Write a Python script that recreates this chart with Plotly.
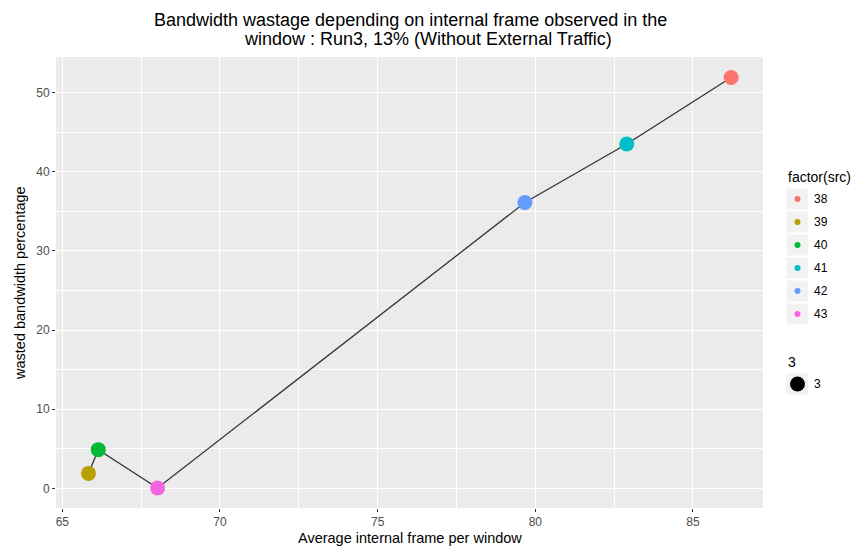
import plotly.graph_objects as go

# Per-source observations
src = ["38", "39", "40", "41", "42", "43"]
avg_internal_frame = [86.21, 65.83, 66.14, 82.90, 79.67, 68.02]
wasted_pct = [51.9, 1.9, 4.9, 43.5, 36.1, 0.05]
colors = ["#F8766D", "#B79F00", "#00BA38", "#00BFC4", "#619CFF", "#F564E3"]
size_label = "3"

x_ticks = [65, 70, 75, 80, 85]
y_ticks = [0, 10, 20, 30, 40, 50]

W, H = 855, 550
L, R, T, B = 56, 92, 57, 42
PW, PH = W - L - R, H - T - B

FONT = "Liberation Sans, Arial, sans-serif"

fig = go.Figure()

# connecting line, ordered along x
order = sorted(range(len(src)), key=lambda i: avg_internal_frame[i])
fig.add_trace(go.Scatter(
    x=[avg_internal_frame[i] for i in order],
    y=[wasted_pct[i] for i in order],
    mode="lines", line=dict(color="#333333", width=1.3),
    hoverinfo="skip", showlegend=False))

for s, xv, yv, c in zip(src, avg_internal_frame, wasted_pct, colors):
    fig.add_trace(go.Scatter(
        x=[xv], y=[yv], mode="markers", name=s,
        marker=dict(color=c, size=15, line=dict(width=0)),
        showlegend=False))


def px_x(px):
    return (px - L) / PW


def px_y(py):
    return (H - B - py) / PH


shapes = []
annotations = []


def label(text, x, y, size, color="black", xanchor="left", angle=0):
    annotations.append(dict(
        text=text, x=px_x(x), y=px_y(y), xref="paper", yref="paper",
        showarrow=False, xanchor=xanchor, yanchor="middle", textangle=angle,
        font=dict(family=FONT, size=size, color=color)))


# title, two centred lines
label("Bandwidth wastage depending on internal frame observed in the", 410, 20, 18, xanchor="center")
label("window : Run3, 13% (Without External Traffic)", 428, 39, 18, xanchor="center")

# axis titles
label("Average internal frame per window", 410, 538, 14.5, xanchor="center")
label("wasted bandwidth percentage", 20, 283, 14.5, xanchor="center", angle=-90)

# colour legend
label("factor(src)", 786, 177, 14)
for k, (s, c) in enumerate(zip(src, colors)):
    cy = 199 + 23 * k
    shapes.append(dict(type="rect", xref="paper", yref="paper",
                       x0=px_x(786.5), x1=px_x(808), y0=px_y(cy - 10.5), y1=px_y(cy + 10.5),
                       fillcolor="#F2F2F2", line=dict(width=0), layer="below"))
    shapes.append(dict(type="circle", xref="paper", yref="paper",
                       xsizemode="pixel", ysizemode="pixel",
                       xanchor=px_x(797.5), yanchor=px_y(cy),
                       x0=-3, x1=3, y0=-3, y1=3,
                       fillcolor=c, line=dict(width=0)))
    label(s, 812, cy, 12)

# size legend
label(size_label, 786, 362, 14)
shapes.append(dict(type="rect", xref="paper", yref="paper",
                   x0=px_x(786.5), x1=px_x(808), y0=px_y(384 - 10.5), y1=px_y(384 + 10.5),
                   fillcolor="#F2F2F2", line=dict(width=0), layer="below"))
shapes.append(dict(type="circle", xref="paper", yref="paper",
                   xsizemode="pixel", ysizemode="pixel",
                   xanchor=px_x(797.5), yanchor=px_y(384),
                   x0=-7.5, x1=7.5, y0=-7.5, y1=7.5,
                   fillcolor="black", line=dict(width=0)))
label(size_label, 812, 384, 12)

axis_common = dict(
    showline=False, zeroline=False, ticks="outside", ticklen=3,
    tickcolor="#333333", tickwidth=1,
    gridcolor="white", gridwidth=1.1,
    tickfont=dict(family=FONT, size=12, color="#4D4D4D"),
)

fig.update_layout(
    width=W, height=H,
    margin=dict(l=L, r=R, t=T, b=B),
    paper_bgcolor="white", plot_bgcolor="#EBEBEB",
    showlegend=False,
    shapes=shapes, annotations=annotations,
    xaxis=dict(
        **axis_common,
        range=[64.80, 87.22], tickvals=x_ticks, ticktext=[str(v) for v in x_ticks],
        minor=dict(tickvals=[62.5, 67.5, 72.5, 77.5, 82.5, 87.5], showgrid=True,
                   gridcolor="white", gridwidth=0.5, ticks=""),
    ),
    yaxis=dict(
        **axis_common,
        range=[-2.47, 54.48], tickvals=y_ticks, ticktext=[str(v) for v in y_ticks],
        minor=dict(tickvals=[5, 15, 25, 35, 45, 55], showgrid=True,
                   gridcolor="white", gridwidth=0.5, ticks=""),
    ),
)

fig.write_html("out.html")
